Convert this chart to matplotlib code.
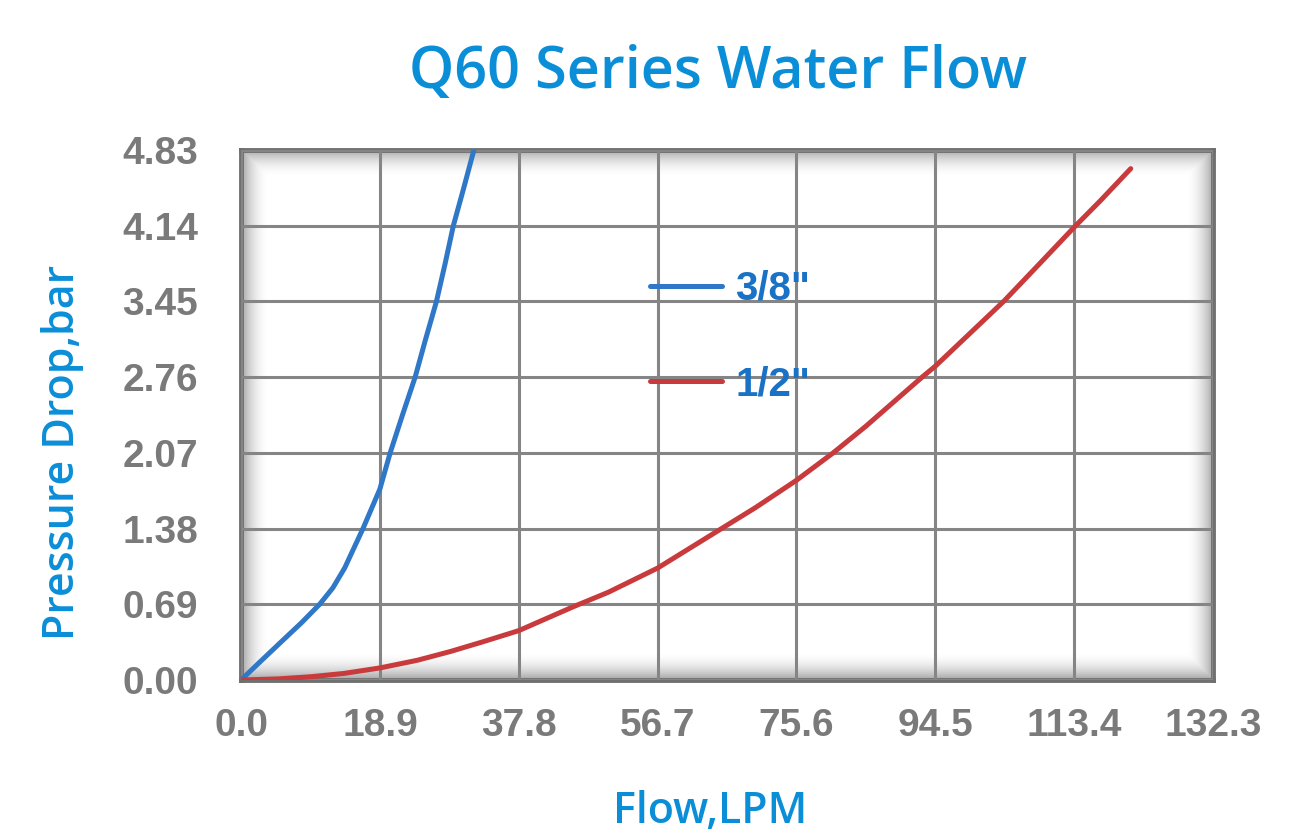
import matplotlib.pyplot as plt
import numpy as np

# Values
x_ticks = [0.0, 18.9, 37.8, 56.7, 75.6, 94.5, 113.4, 132.3]
y_ticks = [0.00, 0.69, 1.38, 2.07, 2.76, 3.45, 4.14, 4.83]

flow_38 = [0, 2.5, 5.5, 8.2, 10.7, 12.5, 14.1, 16.6, 18.9, 20.3, 22.0, 23.7, 25.1, 26.6, 27.8, 28.9, 30.3, 31.7]
drop_38 = [0, 0.16, 0.35, 0.52, 0.69, 0.84, 1.02, 1.38, 1.74, 2.07, 2.42, 2.76, 3.10, 3.45, 3.80, 4.14, 4.48, 4.83]

flow_12 = [0, 5.0, 9.5, 14.0, 18.9, 24.0, 28.5, 33.0, 37.8, 45.3, 50.0, 56.7, 65.4, 70.0,
           75.6, 80.6, 85.0, 92.7, 94.5, 103.8, 108.5, 113.6, 117.0, 121.1]
drop_12 = [0, 0.01, 0.03, 0.06, 0.11, 0.18, 0.26, 0.35, 0.45, 0.67, 0.80, 1.02, 1.38, 1.57,
           1.82, 2.07, 2.31, 2.76, 2.86, 3.45, 3.78, 4.14, 4.37, 4.66]

title_blue = '#0b8ed8'
legend_blue = '#1a72c6'
tick_gray = '#7a7a7a'

fig = plt.figure(figsize=(13, 8.35), dpi=100)
ax = fig.add_axes([0.1854, 0.1856, 0.7477, 0.6348])

ax.set_xlim(0, 132.3)
ax.set_ylim(0, 4.83)

# soft inner shadow around the plot frame
h, w = 530, 972
yy, xx = np.mgrid[0:h, 0:w]
d = np.minimum(np.minimum(xx, w - 1 - xx), np.minimum(yy, h - 1 - yy)).astype(float)
alpha = np.clip(1 - d / 28.0, 0, 1) ** 2 * 0.55
shade = np.zeros((h, w, 4))
shade[..., :3] = 0.35
shade[..., 3] = alpha
ax.imshow(shade, extent=[0, 132.3, 0, 4.83], aspect='auto', zorder=0.5, interpolation='bilinear')

ax.set_xticks(x_ticks)
ax.set_yticks(y_ticks)
ax.set_xticklabels([f'{v:.1f}' for v in x_ticks])
ax.set_yticklabels([f'{v:.2f}' for v in y_ticks])
ax.grid(True, color='#858585', linewidth=2.2, zorder=1)
ax.set_axisbelow(False)
ax.tick_params(length=0, labelsize=28, labelcolor=tick_gray)
ax.tick_params(axis='x', pad=20)
ax.tick_params(axis='y', pad=31)
for lab in ax.get_xticklabels() + ax.get_yticklabels():
    lab.set_fontfamily('Liberation Sans')
    lab.set_fontweight('bold')
for s in ax.spines.values():
    s.set_color('#707070')
    s.set_linewidth(3.5)

ax.plot(flow_38, drop_38, color='#2f78c8', linewidth=3.6, label='3/8"', zorder=3,
        solid_joinstyle='round', solid_capstyle='round')
ax.plot(flow_12, drop_12, color='#c93a3c', linewidth=3.6, label='1/2"', zorder=3,
        solid_joinstyle='round', solid_capstyle='round')

leg = ax.legend(loc='upper left', bbox_to_anchor=(0.421, 0.7736), frameon=False,
                borderpad=0, borderaxespad=0, handlelength=1.79, handletextpad=0.32,
                labelspacing=1.43,
                prop={'family': 'Liberation Sans', 'weight': 'bold', 'size': 29},
                labelcolor=legend_blue)

fig.text(0.552, 0.8946, 'Q60 Series Water Flow', ha='center', va='baseline',
         fontsize=41.5, color=title_blue, fontfamily='Open Sans', fontweight='semibold')

fig.text(0.0477, 0.4587, 'Pressure Drop,bar', rotation=90, ha='center', va='center',
         fontsize=31, color=title_blue, fontfamily='Open Sans', fontweight='semibold')
fig.text(0.546, 0.014, 'Flow,LPM', ha='center', va='baseline',
         fontsize=31, color=title_blue, fontfamily='Open Sans', fontweight='semibold')

fig.savefig('out.png', dpi=100)
